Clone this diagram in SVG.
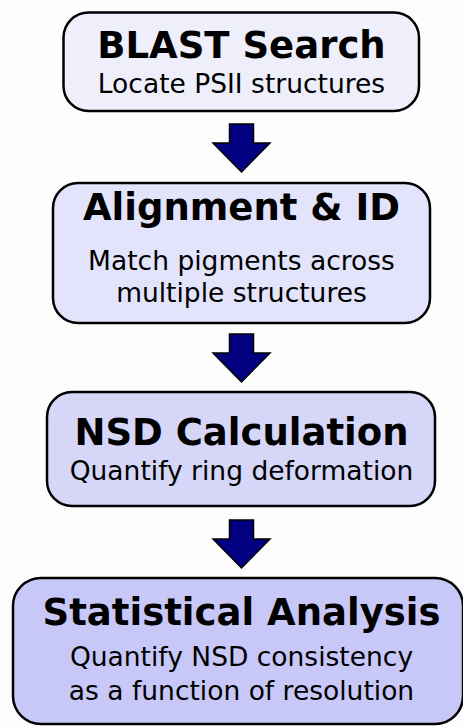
<svg xmlns="http://www.w3.org/2000/svg" width="463" height="726" viewBox="0 0 463 726">
<style>
.box{stroke:#000;stroke-width:2.5}
.t{font-family:"DejaVu Sans",sans-serif;font-weight:bold;font-size:37px;text-anchor:middle;fill:#000}
.s{font-family:"DejaVu Sans",sans-serif;font-size:26.5px;text-anchor:middle;fill:#000}
.arr{fill:#000080;stroke:#000;stroke-width:1.5;stroke-linejoin:miter}
</style>
<defs>
<path id="arrow" class="arr" d="M229.5,0 H253.5 V19 H270 L241.5,48 L213,19 H229.5 Z"/>
</defs>
<rect width="463" height="726" fill="#fdfdfd"/>
<g id="connectors">
<use href="#arrow" y="124"/>
<use href="#arrow" y="334"/>
<use href="#arrow" y="520"/>
</g>
<g id="blast">
<rect class="box" x="63.5" y="12.5" width="355.5" height="98.5" rx="25" fill="#efeffc"/>
<text class="t" x="241.5" y="58">BLAST Search</text>
<text class="s" x="241.5" y="93">Locate PSII structures</text>
</g>
<g id="alignment">
<rect class="box" x="53" y="183" width="377" height="140" rx="25" fill="#e3e3fb"/>
<text class="t" x="241.5" y="220">Alignment &amp; ID</text>
<text class="s" x="241.5" y="270">Match pigments across</text>
<text class="s" x="241.5" y="302">multiple structures</text>
</g>
<g id="nsd">
<rect class="box" x="47" y="392" width="388" height="114" rx="25" fill="#d6d6f9"/>
<text class="t" x="241.5" y="445">NSD Calculation</text>
<text class="s" x="241.5" y="480">Quantify ring deformation</text>
</g>
<g id="stats">
<rect class="box" x="13" y="578" width="450" height="146" rx="28" fill="#c8c8f8"/>
<text class="t" x="241.5" y="625">Statistical Analysis</text>
<text class="s" x="241.5" y="666">Quantify NSD consistency</text>
<text class="s" x="241.5" y="700">as a function of resolution</text>
</g>
</svg>
